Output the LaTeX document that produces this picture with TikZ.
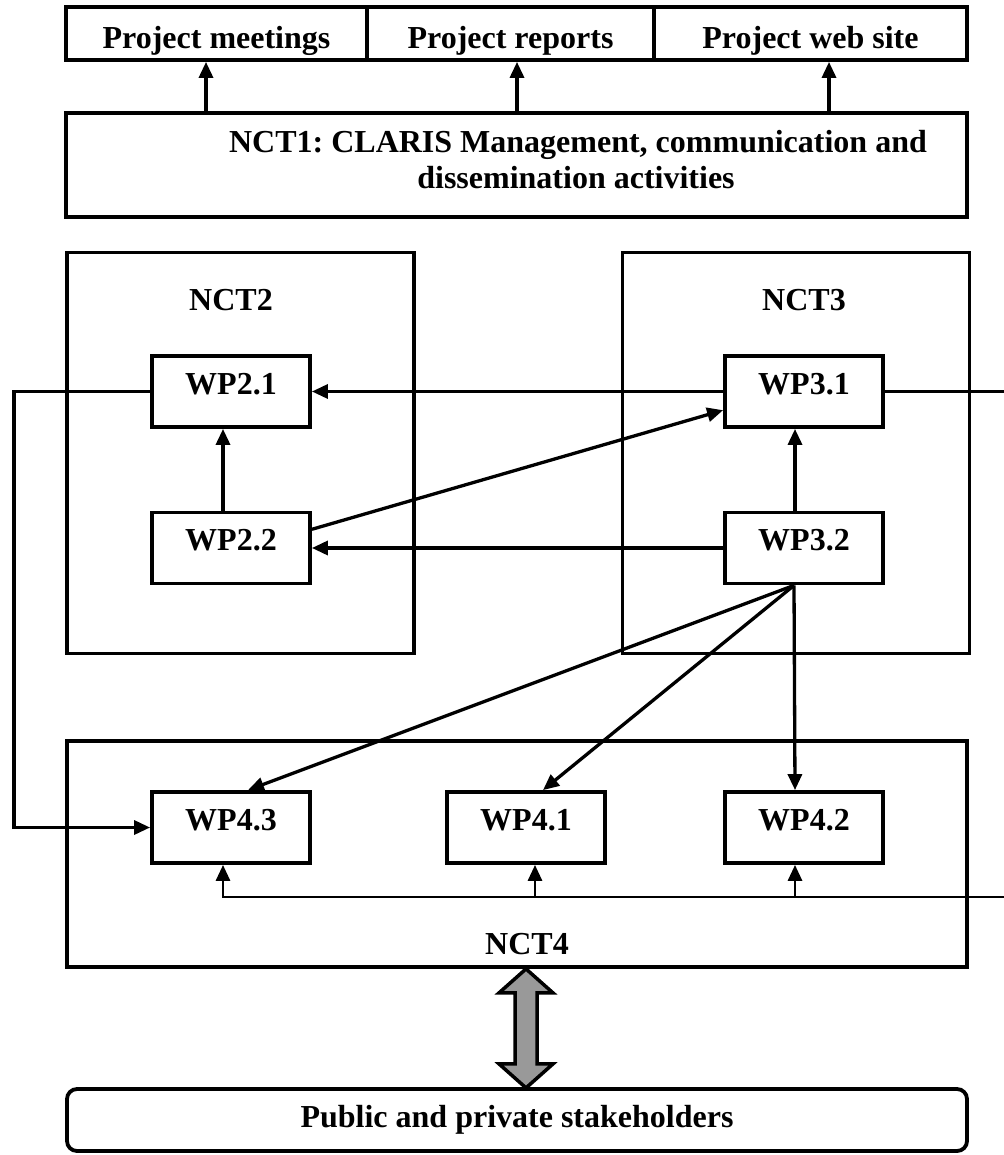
\documentclass[tikz,border=0pt]{standalone}
\usepackage{fontspec}
\setmainfont{Liberation Serif}
\usetikzlibrary{arrows.meta,calc}
\frenchspacing

\begin{document}
\begin{tikzpicture}[x=1pt,y=-1pt,
    font=\fontsize{32}{38}\selectfont\bfseries,
    >={Triangle[length=16pt,width=14pt]},
    box/.style={draw,line width=3.8pt,inner sep=0pt},
    wpbox/.style={box,minimum width=158pt,minimum height=71pt,text height=20pt,text depth=15pt},
    topbox/.style={box,minimum height=53pt,text height=32pt,text depth=1pt},
    grpbox/.style={box,minimum width=347pt,minimum height=401pt},
    lbl/.style={anchor=base,inner sep=0pt},
    link/.style={line width=3.3pt,->},
    feed/.style={line width=2.9pt,->}]
    \useasboundingbox (0,0) rectangle (1003,1155);

    % outputs of NCT1
    \node[topbox,minimum width=301pt] (meet) at (216.5,33.5) {Project meetings};
    \node[topbox,minimum width=287pt] (rep)  at (510.5,33.5) {Project reports};
    \node[topbox,minimum width=313pt] (web)  at (810.5,33.5) {Project web site};

    % NCT1
    \node[box,minimum width=901pt,minimum height=104pt] (nct1) at (516.5,165) {};
    \node[lbl] (nct1a) at (578,153) {NCT1: CLARIS Management, communication and};
    \node[lbl] (nct1b) at (576,189) {dissemination activities};

    \draw[link] (nct1.north -| 206,0) -- (meet.south -| 206,0);
    \draw[link] (nct1.north -| 517,0) -- (rep.south -| 517,0);
    \draw[link] (nct1.north -| 829,0) -- (web.south -| 829,0);

    % NCT2 and NCT3
    \node[grpbox] (nct2) at (240.5,453) {};
    \node[grpbox] (nct3) at (796,453) {};
    \node[lbl] (nct2l) at (231,310) {NCT2};
    \node[lbl] (nct3l) at (804,310) {NCT3};

    \node[wpbox] (wp21) at (231,391.5) {WP2.1};
    \node[wpbox] (wp22) at (231,548) {WP2.2};
    \node[wpbox] (wp31) at (804,391.5) {WP3.1};
    \node[wpbox] (wp32) at (804,548) {WP3.2};

    % NCT4
    \node[box,minimum width=900pt,minimum height=226pt] (nct4) at (517,854) {};
    \node[lbl] (nct4l) at (527,954) {NCT4};

    \node[wpbox] (wp43) at (231,827.5) {WP4.3};
    \node[wpbox] (wp41) at (526,827.5) {WP4.1};
    \node[wpbox] (wp42) at (804,827.5) {WP4.2};

    % stakeholders
    \node[box,rounded corners=10pt,minimum width=900pt,minimum height=62pt,
          text height=22pt,text depth=8pt] (stake) at (517,1120) {Public and private stakeholders};

    % links between the work packages
    \draw[link] (wp31.west) -- (wp21.east);
    \draw[link] (wp32.west) -- (wp22.east);
    \draw[link] ([xshift=-8pt]wp22.north) -- ([xshift=-8pt]wp21.south);
    \draw[link] ([xshift=-9pt]wp32.north) -- ([xshift=-9pt]wp31.south);
    \draw[link] ($(wp22.east)!.5!(wp22.north east)$) -- ($(wp31.west)!.5!(wp31.south west)$);

    \coordinate (hub) at ([xshift=-10pt]wp32.south);
    \draw[link] (hub) -- ([xshift=17pt]wp43.north);
    \draw[link] (hub) -- ([xshift=17pt]wp41.north);
    \draw[link] (hub) -- ([xshift=-9pt]wp42.north);

    % loop on the left
    \draw[link] (wp21.west) -- ++(-136,0) |- (wp43.west);

    % loop on the right (runs off the page)
    \coordinate (rtop) at (1010,391.5);
    \coordinate (rbot) at (1010,897);
    \draw[line width=3.3pt] (wp31.east) -- (rtop);
    \draw[feed] (rbot) -| ([xshift=-8pt]wp43.south);
    \draw[feed] (rbot -| 535,0) -- ([xshift=9pt]wp41.south);
    \draw[feed] (rbot -| 795,0) -- ([xshift=-9pt]wp42.south);

    % exchange with the stakeholders
    \coordinate (xtip) at ([xshift=9pt]nct4.south);
    \draw[line width=3.5pt,fill=black!40,line join=miter]
      (xtip) -- ++(27,24) -- ++(-16,0) -- ++(0,71) -- ++(16,0) -- ++(-27,24)
      -- ++(-27,-24) -- ++(16,0) -- ++(0,-71) -- ++(-16,0) -- cycle;
\end{tikzpicture}
\end{document}
